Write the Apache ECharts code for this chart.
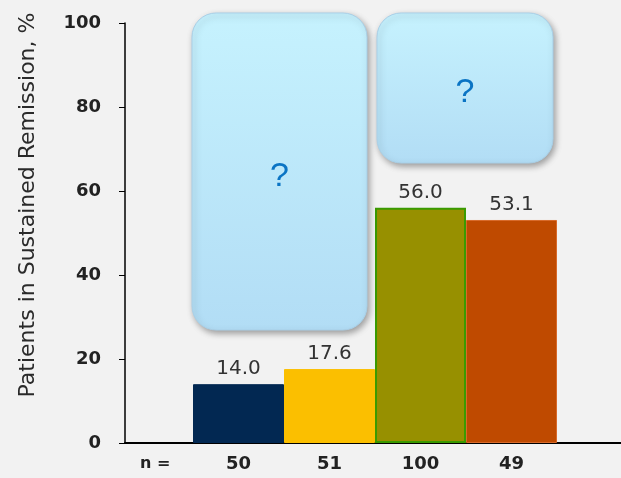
<!DOCTYPE html>
<html>
<head>
<meta charset="utf-8">
<script src="https://cdn.jsdelivr.net/npm/echarts@6/dist/echarts.min.js"></script>
<style>
  html, body { margin: 0; padding: 0; background: #f2f2f2; }
  #chart { width: 621px; height: 478px; }
</style>
</head>
<body>
<div id="chart"></div>
<script>
const groupSizes = ['50', '51', '100', '49'];
const remissionPct = [14.0, 17.6, 56.0, 53.1];
const barColors = ['#022852', '#fbbf00', '#979000', '#bf4a00'];
const barBorders = ['#022852', '#fbbf00', '#3a9a00', '#d86a2a'];
const yTicks = { min: 0, max: 100, interval: 20 };

const chart = echarts.init(document.getElementById('chart'), null, { renderer: 'canvas' });

const gridTop = 23, gridBottom = 35;
const FONT = 'DejaVu Sans, sans-serif';
const tickFont = { fontFamily: FONT, fontWeight: 'bold', fontSize: 18, color: '#222' };

// rounded "?" callout boxes
function callout(x, y, w, h) {
    return {
        type: 'group',
        children: [
            {
                type: 'rect',
                shape: { x: x, y: y, width: w, height: h, r: 24 },
                style: {
                    fill: new echarts.graphic.LinearGradient(0, 0, 0, 1, [
                        { offset: 0, color: '#c6f2fe' },
                        { offset: 1, color: '#b2ddf5' }
                    ]),
                    stroke: '#a9d0e8',
                    lineWidth: 1,
                    shadowBlur: 6,
                    shadowOffsetX: 2,
                    shadowOffsetY: 3,
                    shadowColor: 'rgba(0,0,0,0.35)'
                },
                z: 10
            },
            {
                type: 'text',
                style: {
                    x: x + w / 2, y: y + h / 2 + 5,
                    text: '?',
                    fill: '#0a74c4',
                    font: '34px "Liberation Sans", Arial, sans-serif',
                    align: 'center',
                    verticalAlign: 'middle'
                },
                z: 11
            }
        ]
    };
}

chart.setOption({
    backgroundColor: '#f2f2f2',
    animation: false,
    grid: [
        { left: 125, right: 0, top: gridTop, bottom: gridBottom },
        { left: 193, width: 364, top: gridTop, bottom: gridBottom }
    ],
    xAxis: [
        {
            gridIndex: 0, type: 'category', data: [''],
            axisLine: { lineStyle: { color: '#000', width: 2 } },
            axisTick: { show: false }, axisLabel: { show: false }
        },
        {
            gridIndex: 1, type: 'category', data: groupSizes,
            axisLine: { show: false }, axisTick: { show: false },
            axisLabel: Object.assign({ margin: 12 }, tickFont)
        }
    ],
    yAxis: [
        {
            gridIndex: 0, type: 'value',
            min: yTicks.min, max: yTicks.max, interval: yTicks.interval,
            axisLine: { show: true, lineStyle: { color: '#000', width: 1.5 } },
            axisTick: { show: true, length: 6, lineStyle: { color: '#000', width: 1 } },
            axisLabel: Object.assign({ margin: 24 }, tickFont),
            splitLine: { show: false },
            name: 'Patients in Sustained Remission, %',
            nameLocation: 'middle',
            nameGap: 86,
            nameRotate: 90,
            nameTextStyle: { fontFamily: FONT, fontSize: 22, color: '#2a2a2a', padding: [0, 0, 0, 56] }
        },
        {
            gridIndex: 1, type: 'value', show: false,
            min: yTicks.min, max: yTicks.max
        }
    ],
    series: [{
        type: 'bar',
        xAxisIndex: 1, yAxisIndex: 1,
        barWidth: '100%',
        data: remissionPct.map((v, i) => ({
            value: v,
            itemStyle: { color: barColors[i], borderColor: barBorders[i], borderWidth: i === 2 ? 2 : 1 }
        })),
        label: {
            show: true, position: 'top', distance: 5,
            formatter: p => p.value.toFixed(1),
            fontFamily: FONT,
            fontSize: 20, color: '#333'
        }
    }],
    graphic: [
        {
            type: 'text', left: 140, top: 456,
            style: { text: 'n =', font: 'bold 16px "DejaVu Sans", sans-serif', fill: '#222' }
        },
        callout(192, 13, 175, 317),
        callout(377, 13, 176, 150)
    ]
});
</script>
</body>
</html>
